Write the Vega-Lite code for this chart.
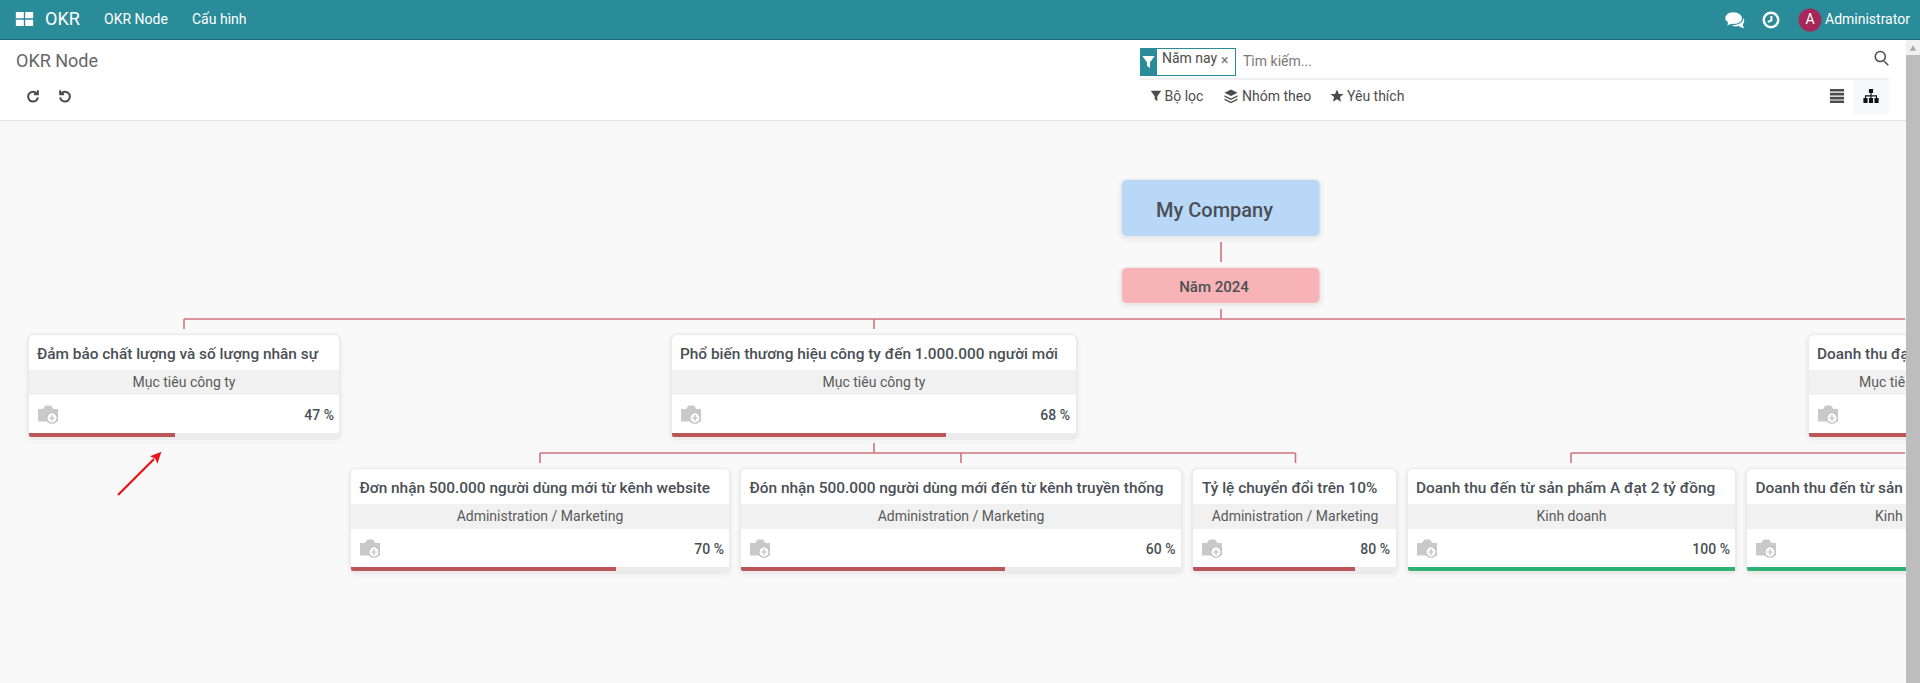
{
  "$schema": "https://vega.github.io/schema/vega-lite/v6.json",
  "width": 1920,
  "height": 683,
  "padding": 0,
  "autosize": {"type": "none"},
  "background": "#f9f9f9",
  "config": {
    "view": {"stroke": null},
    "axis": {"disable": true},
    "legend": {"disable": true},
    "text": {"font": "Roboto", "baseline": "middle"}
  },
  "datasets": {
    "boxes": [
      {"group": "flat", "kind": "header", "x": 0, "x2": 1920, "y": 0, "y2": 39},
      {"group": "flat", "kind": "headerline", "x": 0, "x2": 1920, "y": 39, "y2": 40},
      {"group": "flat", "kind": "white", "x": 0, "x2": 1906, "y": 40, "y2": 120},
      {"group": "flat", "kind": "rule", "x": 0, "x2": 1906, "y": 120, "y2": 121},
      {"group": "flat", "kind": "rule", "x": 1140, "x2": 1889, "y": 78.5, "y2": 79.5},
      {"group": "flat", "kind": "button", "x": 1853, "x2": 1889, "y": 80, "y2": 114},
      {"group": "flat", "kind": "header", "x": 1140, "x2": 1236, "y": 48, "y2": 76},
      {"group": "flat", "kind": "white", "x": 1157, "x2": 1235, "y": 49, "y2": 75},
      {"group": "raised", "kind": "company", "x": 1122, "x2": 1319.5, "y": 180, "y2": 236},
      {"group": "raised", "kind": "year", "x": 1122, "x2": 1319.5, "y": 268, "y2": 303},
      {"group": "raised", "kind": "white", "x": 29, "x2": 339, "y": 335, "y2": 437},
      {"group": "raised", "kind": "white", "x": 672, "x2": 1076, "y": 335, "y2": 437},
      {"group": "raised", "kind": "white", "x": 1809, "x2": 1930, "y": 335, "y2": 437},
      {"group": "raised", "kind": "white", "x": 351, "x2": 729, "y": 469, "y2": 571},
      {"group": "raised", "kind": "white", "x": 741, "x2": 1181, "y": 469, "y2": 571},
      {"group": "raised", "kind": "white", "x": 1193, "x2": 1396, "y": 469, "y2": 571},
      {"group": "raised", "kind": "white", "x": 1408, "x2": 1735, "y": 469, "y2": 571},
      {"group": "raised", "kind": "white", "x": 1747, "x2": 2014, "y": 469, "y2": 571},
      {"group": "band", "kind": "band", "x": 29, "x2": 339, "y": 370, "y2": 395},
      {"group": "band", "kind": "band", "x": 672, "x2": 1076, "y": 370, "y2": 395},
      {"group": "band", "kind": "band", "x": 1809, "x2": 1930, "y": 370, "y2": 395},
      {"group": "band", "kind": "band", "x": 351, "x2": 729, "y": 504, "y2": 529},
      {"group": "band", "kind": "band", "x": 741, "x2": 1181, "y": 504, "y2": 529},
      {"group": "band", "kind": "band", "x": 1193, "x2": 1396, "y": 504, "y2": 529},
      {"group": "band", "kind": "band", "x": 1408, "x2": 1735, "y": 504, "y2": 529},
      {"group": "band", "kind": "band", "x": 1747, "x2": 2014, "y": 504, "y2": 529},
      {"group": "track", "kind": "track", "x": 29, "x2": 339, "y": 433, "y2": 437},
      {"group": "track", "kind": "track", "x": 672, "x2": 1076, "y": 433, "y2": 437},
      {"group": "track", "kind": "track", "x": 351, "x2": 729, "y": 567, "y2": 571},
      {"group": "track", "kind": "track", "x": 741, "x2": 1181, "y": 567, "y2": 571},
      {"group": "track", "kind": "track", "x": 1193, "x2": 1396, "y": 567, "y2": 571},
      {"group": "bar", "kind": "behind", "x": 29, "x2": 175, "y": 433, "y2": 437},
      {"group": "bar", "kind": "behind", "x": 672, "x2": 946, "y": 433, "y2": 437},
      {"group": "bar", "kind": "behind", "x": 1809, "x2": 1930, "y": 433, "y2": 437},
      {"group": "bar", "kind": "behind", "x": 351, "x2": 616, "y": 567, "y2": 571},
      {"group": "bar", "kind": "behind", "x": 741, "x2": 1005, "y": 567, "y2": 571},
      {"group": "bar", "kind": "behind", "x": 1193, "x2": 1355, "y": 567, "y2": 571},
      {"group": "bar", "kind": "done", "x": 1408, "x2": 1735, "y": 567, "y2": 571},
      {"group": "bar", "kind": "done", "x": 1747, "x2": 2014, "y": 567, "y2": 571},
      {"group": "top", "kind": "scrolltrack", "x": 1906, "x2": 1920, "y": 40, "y2": 55},
      {"group": "top", "kind": "scrollthumb", "x": 1906, "x2": 1920, "y": 55, "y2": 683}
    ],
    "links": [
      {"x": 1221, "x2": 1221, "y": 242, "y2": 262},
      {"x": 1221, "x2": 1221, "y": 309, "y2": 319},
      {"x": 184, "x2": 1905, "y": 319, "y2": 319},
      {"x": 184, "x2": 184, "y": 319, "y2": 329},
      {"x": 874, "x2": 874, "y": 319, "y2": 329},
      {"x": 874, "x2": 874, "y": 443, "y2": 453},
      {"x": 540, "x2": 1295.5, "y": 453, "y2": 453},
      {"x": 540, "x2": 540, "y": 453, "y2": 463},
      {"x": 961, "x2": 961, "y": 453, "y2": 463},
      {"x": 1295.5, "x2": 1295.5, "y": 453, "y2": 463},
      {"x": 1571, "x2": 1905, "y": 453, "y2": 453},
      {"x": 1571, "x2": 1571, "y": 453, "y2": 463}
    ],
    "arrow": [
      {"x": 118, "x2": 154, "y": 495, "y2": 459}
    ],
    "icons": [
      {"icon": "grid", "x": 24.5, "y": 19},
      {"icon": "chat", "x": 1735, "y": 20},
      {"icon": "clockface", "x": 1771, "y": 20},
      {"icon": "clockhand", "x": 1771, "y": 20},
      {"icon": "avatar", "x": 1810, "y": 20},
      {"icon": "search", "x": 1881, "y": 58},
      {"icon": "funnelwhite", "x": 1148.5, "y": 62},
      {"icon": "funnel", "x": 1156, "y": 96},
      {"icon": "stack", "x": 1231, "y": 96},
      {"icon": "star", "x": 1337, "y": 96},
      {"icon": "list", "x": 1837, "y": 96},
      {"icon": "tree", "x": 1871, "y": 96},
      {"icon": "redo", "x": 33, "y": 96},
      {"icon": "undo", "x": 65, "y": 96},
      {"icon": "camera", "x": 48, "y": 414},
      {"icon": "camera", "x": 691, "y": 414},
      {"icon": "camera", "x": 1828, "y": 414},
      {"icon": "camera", "x": 370, "y": 548},
      {"icon": "camera", "x": 760, "y": 548},
      {"icon": "camera", "x": 1212, "y": 548},
      {"icon": "camera", "x": 1427, "y": 548},
      {"icon": "camera", "x": 1766, "y": 548},
      {"icon": "arrowhead", "x": 155, "y": 458},
      {"icon": "scrollup", "x": 1913, "y": 48}
    ],
    "labels": [
      {"style": "brand", "label": "OKR", "x": 45, "y": 20},
      {"style": "nav", "label": "OKR Node", "x": 104, "y": 20},
      {"style": "nav", "label": "Cấu hình", "x": 192, "y": 20},
      {"style": "nav", "label": "Administrator", "x": 1825, "y": 20},
      {"style": "avatar", "label": "A", "x": 1810, "y": 20},
      {"style": "page", "label": "OKR Node", "x": 16, "y": 61.5},
      {"style": "facet", "label": "Năm nay", "x": 1162, "y": 59},
      {"style": "close", "label": "×", "x": 1221, "y": 61},
      {"style": "placeholder", "label": "Tìm kiếm...", "x": 1243, "y": 62},
      {"style": "button", "label": "Bộ lọc", "x": 1164.5, "y": 96.5},
      {"style": "button", "label": "Nhóm theo", "x": 1242, "y": 96.5},
      {"style": "button", "label": "Yêu thích", "x": 1347, "y": 96.5},
      {"style": "company", "label": "My Company", "x": 1156, "y": 210.5},
      {"style": "year", "label": "Năm 2024", "x": 1214, "y": 287},
      {"style": "title", "label": "Đảm bảo chất lượng và số lượng nhân sự", "x": 37, "y": 354},
      {"style": "title", "label": "Phổ biến thương hiệu công ty đến 1.000.000 người mới", "x": 680, "y": 354},
      {"style": "title", "label": "Doanh thu đạ", "x": 1817, "y": 354},
      {"style": "title", "label": "Đơn nhận 500.000 người dùng mới từ kênh website", "x": 359.5, "y": 488},
      {"style": "title", "label": "Đón nhận 500.000 người dùng mới đến từ kênh truyền thống", "x": 749.5, "y": 488},
      {"style": "title", "label": "Tỷ lệ chuyển đổi trên 10%", "x": 1202, "y": 488},
      {"style": "title", "label": "Doanh thu đến từ sản phẩm A đạt 2 tỷ đồng", "x": 1416, "y": 488},
      {"style": "title", "label": "Doanh thu đến từ sản", "x": 1755.5, "y": 488},
      {"style": "dept", "label": "Mục tiêu công ty", "x": 184, "y": 382.5},
      {"style": "dept", "label": "Mục tiêu công ty", "x": 874, "y": 382.5},
      {"style": "deptcut", "label": "Mục tiê", "x": 1859, "y": 382.5},
      {"style": "dept", "label": "Administration / Marketing", "x": 540, "y": 516.5},
      {"style": "dept", "label": "Administration / Marketing", "x": 961, "y": 516.5},
      {"style": "dept", "label": "Administration / Marketing", "x": 1295, "y": 516.5},
      {"style": "dept", "label": "Kinh doanh", "x": 1571.5, "y": 516.5},
      {"style": "deptcut", "label": "Kinh", "x": 1875, "y": 516.5},
      {"style": "pct", "label": "47 %", "x": 334, "y": 416},
      {"style": "pct", "label": "68 %", "x": 1070, "y": 416},
      {"style": "pct", "label": "70 %", "x": 724, "y": 550},
      {"style": "pct", "label": "60 %", "x": 1175.5, "y": 550},
      {"style": "pct", "label": "80 %", "x": 1390, "y": 550},
      {"style": "pct", "label": "100 %", "x": 1730, "y": 550}
    ]
  },
  "encoding": {
    "x": {"field": "x", "type": "quantitative", "scale": {"domain": [0, 1920], "nice": false, "zero": false}},
    "y": {"field": "y", "type": "quantitative", "scale": {"domain": [0, 683], "reverse": true, "nice": false, "zero": false}}
  },
  "layer": [
    {
      "data": {"name": "boxes"},
      "transform": [{"filter": "datum.group=='flat'"}],
      "mark": {"type": "rect"},
      "encoding": {
        "x2": {"field": "x2"}, "y2": {"field": "y2"},
        "color": {"field": "kind", "type": "nominal", "scale": {
          "domain": ["header", "headerline", "white", "rule", "button", "company", "year", "band", "track", "behind", "done", "scrolltrack", "scrollthumb"],
          "range": ["#2a8c99", "#1b6670", "#ffffff", "#dfe1e4", "#f7f8f9", "#b9d8f7", "#f8b3b6", "#f1f1f1", "#ececec", "#bb5558", "#2fb273", "#f1f1f1", "#bdbdbd"]
        }}
      }
    },
    {
      "data": {"name": "links"},
      "mark": {"type": "rule", "color": "#d0737a", "strokeWidth": 1.6},
      "encoding": {"x2": {"field": "x2"}, "y2": {"field": "y2"}}
    },
    {
      "data": {"name": "boxes"},
      "transform": [{"filter": "datum.group=='raised'"}],
      "mark": {"type": "rect", "fillOpacity": 0, "stroke": "#000000", "strokeOpacity": 0.02, "strokeWidth": 9, "cornerRadius": 5, "yOffset": 2, "y2Offset": 2},
      "encoding": {"x2": {"field": "x2"}, "y2": {"field": "y2"}}
    },
    {
      "data": {"name": "boxes"},
      "transform": [{"filter": "datum.group=='raised'"}],
      "mark": {"type": "rect", "fillOpacity": 0, "stroke": "#000000", "strokeOpacity": 0.035, "strokeWidth": 4, "cornerRadius": 5, "yOffset": 1, "y2Offset": 1},
      "encoding": {"x2": {"field": "x2"}, "y2": {"field": "y2"}}
    },
    {
      "data": {"name": "boxes"},
      "transform": [{"filter": "datum.group=='raised'"}],
      "mark": {"type": "rect", "cornerRadius": 5},
      "encoding": {"x2": {"field": "x2"}, "y2": {"field": "y2"}, "color": {"field": "kind", "type": "nominal"}}
    },
    {
      "data": {"name": "boxes"},
      "transform": [{"filter": "datum.group=='band'"}],
      "mark": {"type": "rect"},
      "encoding": {"x2": {"field": "x2"}, "y2": {"field": "y2"}, "color": {"field": "kind", "type": "nominal"}}
    },
    {
      "data": {"name": "boxes"},
      "transform": [{"filter": "datum.group=='track'"}],
      "mark": {"type": "rect", "cornerRadiusBottomLeft": 4, "cornerRadiusBottomRight": 4},
      "encoding": {"x2": {"field": "x2"}, "y2": {"field": "y2"}, "color": {"field": "kind", "type": "nominal"}}
    },
    {
      "data": {"name": "boxes"},
      "transform": [{"filter": "datum.group=='bar'"}],
      "mark": {"type": "rect", "cornerRadiusBottomLeft": 4},
      "encoding": {"x2": {"field": "x2"}, "y2": {"field": "y2"}, "color": {"field": "kind", "type": "nominal"}}
    },
    {
      "data": {"name": "arrow"},
      "mark": {"type": "rule", "color": "#e8161b", "strokeWidth": 2.3},
      "encoding": {"x2": {"field": "x2"}, "y2": {"field": "y2"}}
    },
    {
      "data": {"name": "icons"},
      "transform": [{"filter": "datum.icon=='arrowhead'"}],
      "mark": {"type": "point", "shape": "M.9,-.9L.35,.8 .05,.1 -.7,-.25Z", "filled": true, "opacity": 1, "color": "#e8161b", "size": 200}
    },
    {
      "data": {"name": "icons"},
      "transform": [{"filter": "datum.icon=='grid'"}],
      "mark": {"type": "point", "shape": "M-1,-.8H-.08V-.08H-1ZM.08,-.8H1V-.08H.08ZM-1,.08H-.08V.8H-1ZM.08,.08H1V.8H.08Z", "filled": true, "opacity": 1, "color": "#ffffff", "size": 300}
    },
    {
      "data": {"name": "icons"},
      "transform": [{"filter": "datum.icon=='chat'"}],
      "mark": {"type": "point", "shape": "M-.2,-.85C.45,-.85 .75,-.5 .75,-.2C.75,.15 .35,.45 -.2,.42C-.4,.42 -.6,.5 -.85,.6C-.75,.4 -.75,.25 -.8,.2C-1,.05 -1.05,-.05 -1.05,-.2C-1.05,-.55 -.7,-.85 -.2,-.85ZM.9,-.25C1.05,-.05 1.05,.25 .85,.45C.85,.6 .9,.75 1,.9C.7,.85 .5,.7 .4,.65C.1,.75 -.2,.7 -.35,.55C.3,.6 .95,.25 .9,-.25Z", "filled": true, "opacity": 1, "color": "#ffffff", "size": 340}
    },
    {
      "data": {"name": "icons"},
      "transform": [{"filter": "datum.icon=='clockface'"}],
      "mark": {"type": "point", "shape": "circle", "filled": false, "opacity": 1, "color": "#ffffff", "strokeWidth": 2.4, "size": 210}
    },
    {
      "data": {"name": "icons"},
      "transform": [{"filter": "datum.icon=='clockhand'"}],
      "mark": {"type": "point", "shape": "M.1,-1V.1L-.8,.5", "filled": false, "opacity": 1, "color": "#ffffff", "strokeWidth": 2, "size": 64}
    },
    {
      "data": {"name": "icons"},
      "transform": [{"filter": "datum.icon=='avatar'"}],
      "mark": {"type": "point", "shape": "circle", "filled": true, "opacity": 1, "color": "#a8275a", "size": 529}
    },
    {
      "data": {"name": "icons"},
      "transform": [{"filter": "datum.icon=='search'"}],
      "mark": {"type": "point", "shape": "M.45,.45L1,1M.6,-.2A.7,.7 0 1 1 -.8,-.2A.7,.7 0 1 1 .6,-.2Z", "filled": false, "opacity": 1, "color": "#4c4c4c", "strokeWidth": 1.5, "size": 210}
    },
    {
      "data": {"name": "icons"},
      "transform": [{"filter": "datum.icon=='funnelwhite'"}],
      "mark": {"type": "point", "shape": "M-1,-1H1L.25,.05V1L-.25,.6V.05Z", "filled": true, "opacity": 1, "color": "#ffffff", "size": 150}
    },
    {
      "data": {"name": "icons"},
      "transform": [{"filter": "datum.icon=='funnel'"}],
      "mark": {"type": "point", "shape": "M-1,-1H1L.25,.05V1L-.25,.6V.05Z", "filled": true, "opacity": 1, "color": "#4c4c4c", "size": 110}
    },
    {
      "data": {"name": "icons"},
      "transform": [{"filter": "datum.icon=='stack'"}],
      "mark": {"type": "point", "shape": "M0,-1L1,-.5 0,0 -1,-.5ZM-1,-.1L0,.4 1,-.1 1,.1 0,.6 -1,.1ZM-1,.4L0,.9 1,.4 1,.6 0,1.1 -1,.6Z", "filled": true, "opacity": 1, "color": "#4c4c4c", "size": 170}
    },
    {
      "data": {"name": "icons"},
      "transform": [{"filter": "datum.icon=='star'"}],
      "mark": {"type": "point", "shape": "M0,-1L.29,-.31 1,-.31 .45,.15 .62,.9 0,.5 -.62,.9 -.45,.15 -1,-.31 -.29,-.31Z", "filled": true, "opacity": 1, "color": "#4c4c4c", "size": 170}
    },
    {
      "data": {"name": "icons"},
      "transform": [{"filter": "datum.icon=='list'"}],
      "mark": {"type": "point", "shape": "M-1,-1H1V-.62H-1ZM-1,-.45H1V-.07H-1ZM-1,.1H1V.48H-1ZM-1,.65H1V1H-1Z", "filled": true, "opacity": 1, "color": "#4c4c4c", "size": 200}
    },
    {
      "data": {"name": "icons"},
      "transform": [{"filter": "datum.icon=='tree'"}],
      "mark": {"type": "point", "shape": "M-.3,-1H.3V-.45H.08V-.1H.88V.3H1.1V1H.5V.3H.72V.08H.08V.3H.3V1H-.3V.3H-.08V.08H-.72V.3H-.5V1H-1.1V.3H-.88V-.1H-.08V-.45H-.3Z", "filled": true, "opacity": 1, "color": "#111111", "size": 190}
    },
    {
      "data": {"name": "icons"},
      "transform": [{"filter": "datum.icon=='redo'"}],
      "mark": {"type": "point", "shape": "M.65,-.45A.85,.85 0 1 0 .85,.25M.85,-1V-.3H.15", "filled": false, "opacity": 1, "color": "#4c4c4c", "strokeWidth": 2, "size": 130}
    },
    {
      "data": {"name": "icons"},
      "transform": [{"filter": "datum.icon=='undo'"}],
      "mark": {"type": "point", "shape": "M-.65,-.45A.85,.85 0 1 1 -.85,.25M-.85,-1V-.3H-.15", "filled": false, "opacity": 1, "color": "#4c4c4c", "strokeWidth": 2, "size": 130}
    },
    {
      "data": {"name": "icons"},
      "transform": [{"filter": "datum.icon=='camera'"}],
      "mark": {"type": "point", "shape": "M-1,-.5H-.5L-.25,-.85H.3L.55,-.5H1V.75H-1Z", "filled": true, "opacity": 1, "color": "#c9c9c9", "size": 400}
    },
    {
      "data": {"name": "icons"},
      "transform": [{"filter": "datum.icon=='camera'"}],
      "mark": {"type": "point", "shape": "M-1,0A1,1 0 1 1 1,0A1,1 0 1 1 -1,0ZM-.55,0H.55M0,-.55V.55", "filled": true, "opacity": 1, "fill": "#ffffff", "stroke": "#bdbdbd", "strokeWidth": 1.2, "size": 110, "xOffset": 4, "yOffset": 4}
    },
    {
      "data": {"name": "labels"},
      "transform": [{"filter": "datum.style=='brand'"}],
      "mark": {"type": "text", "align": "left", "fontSize": 18, "color": "#ffffff"},
      "encoding": {"text": {"field": "label"}}
    },
    {
      "data": {"name": "labels"},
      "transform": [{"filter": "datum.style=='nav'"}],
      "mark": {"type": "text", "align": "left", "fontSize": 14, "color": "#ffffff"},
      "encoding": {"text": {"field": "label"}}
    },
    {
      "data": {"name": "labels"},
      "transform": [{"filter": "datum.style=='avatar'"}],
      "mark": {"type": "text", "align": "center", "fontSize": 14, "color": "#ffffff"},
      "encoding": {"text": {"field": "label"}}
    },
    {
      "data": {"name": "labels"},
      "transform": [{"filter": "datum.style=='page'"}],
      "mark": {"type": "text", "align": "left", "fontSize": 18, "color": "#666666"},
      "encoding": {"text": {"field": "label"}}
    },
    {
      "data": {"name": "labels"},
      "transform": [{"filter": "datum.style=='facet'"}],
      "mark": {"type": "text", "align": "left", "fontSize": 14, "color": "#4c4c4c"},
      "encoding": {"text": {"field": "label"}}
    },
    {
      "data": {"name": "labels"},
      "transform": [{"filter": "datum.style=='close'"}],
      "mark": {"type": "text", "align": "left", "fontSize": 14, "color": "#777777"},
      "encoding": {"text": {"field": "label"}}
    },
    {
      "data": {"name": "labels"},
      "transform": [{"filter": "datum.style=='placeholder'"}],
      "mark": {"type": "text", "align": "left", "fontSize": 14, "color": "#7a7a7a"},
      "encoding": {"text": {"field": "label"}}
    },
    {
      "data": {"name": "labels"},
      "transform": [{"filter": "datum.style=='button'"}],
      "mark": {"type": "text", "align": "left", "fontSize": 14, "color": "#4c4c4c"},
      "encoding": {"text": {"field": "label"}}
    },
    {
      "data": {"name": "labels"},
      "transform": [{"filter": "datum.style=='company'"}],
      "mark": {"type": "text", "align": "left", "fontSize": 20, "fontWeight": 500, "color": "#4a4f55"},
      "encoding": {"text": {"field": "label"}}
    },
    {
      "data": {"name": "labels"},
      "transform": [{"filter": "datum.style=='year'"}],
      "mark": {"type": "text", "align": "center", "fontSize": 15, "fontWeight": 500, "color": "#4a4f55"},
      "encoding": {"text": {"field": "label"}}
    },
    {
      "data": {"name": "labels"},
      "transform": [{"filter": "datum.style=='title'"}],
      "mark": {"type": "text", "align": "left", "fontSize": 15.4, "fontWeight": 500, "color": "#4a4f55"},
      "encoding": {"text": {"field": "label"}}
    },
    {
      "data": {"name": "labels"},
      "transform": [{"filter": "datum.style=='dept'"}],
      "mark": {"type": "text", "align": "center", "fontSize": 14, "color": "#5a5a5a"},
      "encoding": {"text": {"field": "label"}}
    },
    {
      "data": {"name": "labels"},
      "transform": [{"filter": "datum.style=='deptcut'"}],
      "mark": {"type": "text", "align": "left", "fontSize": 14, "color": "#5a5a5a"},
      "encoding": {"text": {"field": "label"}}
    },
    {
      "data": {"name": "labels"},
      "transform": [{"filter": "datum.style=='pct'"}],
      "mark": {"type": "text", "align": "right", "fontSize": 14, "fontWeight": 500, "color": "#4a4f55"},
      "encoding": {"text": {"field": "label"}}
    },
    {
      "data": {"name": "boxes"},
      "transform": [{"filter": "datum.group=='top'"}],
      "mark": {"type": "rect"},
      "encoding": {"x2": {"field": "x2"}, "y2": {"field": "y2"}, "color": {"field": "kind", "type": "nominal"}}
    },
    {
      "data": {"name": "icons"},
      "transform": [{"filter": "datum.icon=='scrollup'"}],
      "mark": {"type": "point", "shape": "triangle-up", "filled": true, "opacity": 1, "color": "#a8a8a8", "size": 40}
    }
  ]
}
